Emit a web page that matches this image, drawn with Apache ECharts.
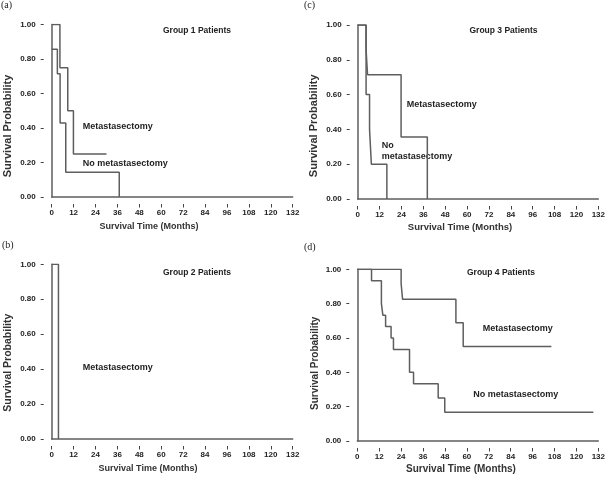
<!DOCTYPE html>
<html>
<head>
<meta charset="utf-8">
<script src="https://cdn.jsdelivr.net/npm/echarts@6/dist/echarts.min.js"></script>
<style>
html,body{margin:0;padding:0;background:#fff;}
#chart{width:608px;height:477px;}
</style>
</head>
<body>
<div id="chart"></div>
<script>
// ---- data ----
var xTicks = [0, 12, 24, 36, 48, 60, 72, 84, 96, 108, 120, 132];
var yTickLabels = ['0.00', '0.20', '0.40', '0.60', '0.80', '1.00'];

var g1MetTime = [0, 4.5, 8.8, 11.9, 30];
var g1MetSurv = [1, 0.75, 0.5, 0.25, 0.25];
var g1NoTime = [0, 3.1, 4.6, 7.7, 37];
var g1NoSurv = [0.857, 0.714, 0.429, 0.143, 0];

var g2MetTime = [0, 3.7];
var g2MetSurv = [1, 0];

var g3MetTime = [0, 4.6, 5.4, 23.8, 38.2];
var g3MetSurv = [1, 0.857, 0.714, 0.357, 0];
var g3NoTime = [0, 4.6, 6.5, 7.5, 16];
var g3NoSurv = [1, 0.6, 0.4, 0.2, 0];

var g4MetTime = [0, 24, 24.8, 54, 58, 106.3];
var g4MetSurv = [1, 0.917, 0.825, 0.688, 0.55, 0.55];
var g4NoTime = [0, 7.8, 13.2, 14, 15.5, 18.5, 19.8, 28.6, 30.8, 44.3, 47.9, 129.3];
var g4NoSurv = [1, 0.933, 0.8, 0.733, 0.667, 0.6, 0.533, 0.4, 0.333, 0.25, 0.167, 0.167];

var groupTitles = ['Group 1 Patients', 'Group 2 Patients', 'Group 3 Patients', 'Group 4 Patients'];
var panelLetters = ['(a)', '(b)', '(c)', '(d)'];
var xTitle = 'Survival Time (Months)';
var yTitle = 'Survival Probability';

// ---- chart ----
var LINE = '#5e5e5e';
var TXT = '#222';
var SANS = '"Liberation Sans", Arial, sans-serif';

var grids = [
  {left: 51.7, top: 24.5, width: 241, height: 172.5},
  {left: 51.7, top: 264.3, width: 241, height: 174.7},
  {left: 357.7, top: 25, width: 244, height: 174},
  {left: 357.3, top: 269.3, width: 244.4, height: 171.7}
];

var xAxes = [], yAxes = [];
grids.forEach(function (g, i) {
  xAxes.push({
    gridIndex: i, type: 'value', position: 'bottom', min: xTicks[0], max: xTicks[xTicks.length - 1],
    axisLine: {show: true, onZero: false, lineStyle: {color: LINE, width: 1.5}},
    axisTick: {show: false}, axisLabel: {show: false}, splitLine: {show: false}
  });
  xAxes.push({
    gridIndex: i, type: 'value', position: 'bottom', min: xTicks[0], max: xTicks[xTicks.length - 1],
    interval: xTicks[1] - xTicks[0], offset: 7,
    axisLine: {show: false, onZero: false},
    axisTick: {show: true, length: 3.5, lineStyle: {color: '#444', width: 1}},
    axisLabel: {show: true, margin: 5, fontSize: 8, fontWeight: 'bold', fontFamily: SANS, color: TXT},
    splitLine: {show: false}
  });
  yAxes.push({
    gridIndex: i, type: 'value', position: 'left', min: 0, max: 1,
    axisLine: {show: true, onZero: false, lineStyle: {color: LINE, width: 1.5}},
    axisTick: {show: false}, axisLabel: {show: false}, splitLine: {show: false}
  });
  yAxes.push({
    gridIndex: i, type: 'value', position: 'left', min: 0, max: 1, interval: 0.2, offset: 8,
    axisLine: {show: false, onZero: false},
    axisTick: {show: true, length: 3, lineStyle: {color: '#444', width: 1}},
    axisLabel: {show: true, margin: 8, fontSize: 8, fontWeight: 'bold', fontFamily: SANS, color: TXT,
      formatter: function (v) { return yTickLabels[Math.round(v / 0.2)]; }},
    splitLine: {show: false}
  });
});

function km(t, s) { return t.map(function (x, i) { return [x, s[i]]; }); }
function curve(gi, t, s) {
  return {
    type: 'line', xAxisIndex: gi * 2, yAxisIndex: gi * 2, step: 'end',
    data: km(t, s), showSymbol: false, symbol: 'none', silent: true,
    lineStyle: {color: LINE, width: 1.5}, z: 3
  };
}

var series = [
  curve(0, g1MetTime, g1MetSurv),
  curve(0, g1NoTime, g1NoSurv),
  curve(1, g2MetTime, g2MetSurv),
  curve(2, g3MetTime, g3MetSurv),
  curve(2, g3NoTime, g3NoSurv),
  curve(3, g4MetTime, g4MetSurv),
  curve(3, g4NoTime, g4NoSurv)
];

function txt(s, x, y, font, align, rot, color) {
  return {
    type: 'text', x: x, y: y, rotation: rot || 0, silent: true,
    style: {text: s, font: font, fill: color || TXT, align: align || 'left', textAlign: align || 'left',
      verticalAlign: 'middle', textVerticalAlign: 'middle'}
  };
}
function bold(sz) { return 'bold ' + sz + 'px ' + SANS; }
var LBL = bold(9);
var TTL = bold(8.5);
var SERIF = '10px "Liberation Serif", "Times New Roman", serif';
var R = Math.PI / 2;
var AX = '#333';

var graphics = [
  txt(panelLetters[0], 1, 5.5, SERIF),
  txt(panelLetters[1], 2, 245, SERIF),
  txt(panelLetters[2], 304, 5, SERIF),
  txt(panelLetters[3], 304, 247, SERIF),
  txt(groupTitles[0], 197, 31, TTL, 'center'),
  txt(groupTitles[1], 197, 272.7, TTL, 'center'),
  txt(groupTitles[2], 503.5, 31, TTL, 'center'),
  txt(groupTitles[3], 501, 273, TTL, 'center'),
  txt('Metastasectomy', 82.7, 126.7, LBL),
  txt('No metastasectomy', 82.7, 164, LBL),
  txt('Metastasectomy', 82.7, 367.3, LBL),
  txt('Metastasectomy', 406.7, 105, LBL),
  txt('No', 381.7, 145.7, LBL),
  txt('metastasectomy', 381.7, 156.7, LBL),
  txt('Metastasectomy', 482.7, 329, LBL),
  txt('No metastasectomy', 473.3, 394.3, LBL),
  // axis titles
  txt(xTitle, 149, 227, bold(9), 'center', 0, AX),
  txt(xTitle, 148, 469, bold(9), 'center', 0, AX),
  txt(xTitle, 460, 227, bold(9.5), 'center', 0, AX),
  txt(xTitle, 461, 469, bold(10), 'center', 0, AX),
  txt(yTitle, 8.3, 126, bold(11), 'center', R, AX),
  txt(yTitle, 8.3, 362.7, bold(10.5), 'center', R, AX),
  txt(yTitle, 314, 125.8, bold(11), 'center', R, AX),
  txt(yTitle, 315, 363.3, bold(10), 'center', R, AX)
];

var chart = echarts.init(document.getElementById('chart'), null, {renderer: 'canvas'});
chart.setOption({
  animation: false,
  backgroundColor: '#fff',
  grid: grids,
  xAxis: xAxes,
  yAxis: yAxes,
  series: series,
  graphic: graphics
});
</script>
</body>
</html>
